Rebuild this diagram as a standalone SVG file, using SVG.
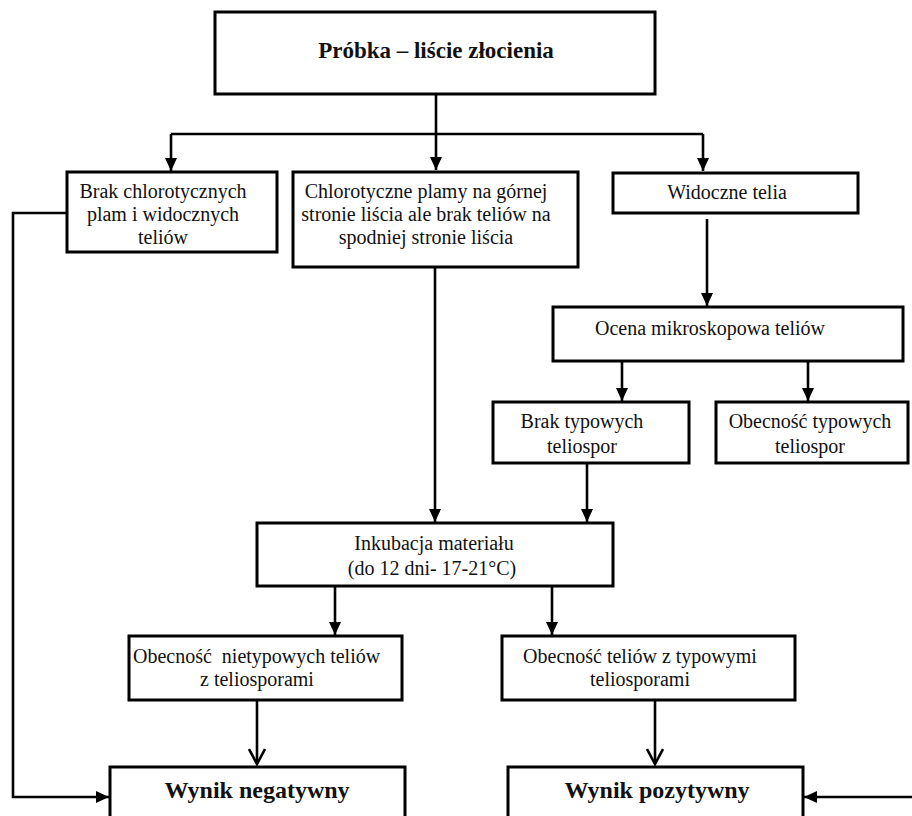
<svg xmlns="http://www.w3.org/2000/svg" width="912" height="816" viewBox="0 0 912 816">
<defs>
<style>
.box{fill:#fff;stroke:#000;stroke-width:3}
.t{font-family:'Liberation Serif','DejaVu Serif',serif;font-size:20px;fill:#111;text-anchor:middle}
.b{font-family:'Liberation Serif','DejaVu Serif',serif;font-weight:bold;fill:#111;text-anchor:middle}
.st{text-anchor:start}
.ln{fill:none;stroke:#000;stroke-width:2.6}
</style>
<marker id="fa" markerUnits="userSpaceOnUse" markerWidth="14" markerHeight="14" refX="13" refY="7" orient="auto" viewBox="0 0 14 14">
<path d="M0,1 L13,7 L0,13 Z" fill="#000"/>
</marker>
<marker id="oa" markerUnits="userSpaceOnUse" markerWidth="18" markerHeight="18" refX="16" refY="9" orient="auto" viewBox="0 0 18 18">
<path d="M1,1 L16,9 L1,17" fill="none" stroke="#000" stroke-width="2.6"/>
</marker>
</defs>
<rect width="912" height="816" fill="#fff"/>

<g id="connectors">
<path class="ln" d="M436,94 V170" marker-end="url(#fa)"/>
<path class="ln" d="M171,134 H703"/>
<path class="ln" d="M171,134 V171" marker-end="url(#fa)"/>
<path class="ln" d="M703,134 V171" marker-end="url(#fa)"/>
<path class="ln" d="M707,219 V306" marker-end="url(#fa)"/>
<path class="ln" d="M622,361 V401" marker-end="url(#fa)"/>
<path class="ln" d="M808,361 V401" marker-end="url(#fa)"/>
<path class="ln" d="M435,267 V522" marker-end="url(#fa)"/>
<path class="ln" d="M587,463 V522" marker-end="url(#fa)"/>
<path class="ln" d="M335,586 V635" marker-end="url(#fa)"/>
<path class="ln" d="M552,586 V635" marker-end="url(#fa)"/>
<path class="ln" d="M257,700 V764" marker-end="url(#oa)"/>
<path class="ln" d="M655,700 V764" marker-end="url(#oa)"/>
<path class="ln" d="M67,213 H13 V797 H109" marker-end="url(#fa)"/>
<path class="ln" d="M912,797 H804" marker-end="url(#fa)"/>
</g>

<g id="n_probka">
<rect class="box" x="215" y="12" width="440" height="82"/>
<text class="b" x="436" y="58" font-size="23">Próbka – liście złocienia</text>
</g>

<g id="n_brak_chl">
<rect class="box" x="67" y="172" width="210" height="80"/>
<text class="t" x="163" y="198">Brak chlorotycznych</text>
<text class="t" x="163" y="221">plam i widocznych</text>
<text class="t" x="163" y="244">teliów</text>
</g>

<g id="n_chlorotyczne">
<rect class="box" x="293" y="172" width="285" height="95"/>
<text class="t" x="426" y="198">Chlorotyczne plamy na górnej</text>
<text class="t" x="426" y="221">stronie liścia ale brak teliów na</text>
<text class="t" x="426" y="244">spodniej stronie liścia</text>
</g>

<g id="n_widoczne">
<rect class="box" x="613" y="173" width="245" height="40"/>
<text class="t" x="727" y="199">Widoczne telia</text>
</g>

<g id="n_ocena">
<rect class="box" x="553" y="307" width="350" height="54"/>
<text class="t" x="710" y="335">Ocena mikroskopowa teliów</text>
</g>

<g id="n_brak_typ">
<rect class="box" x="493" y="402" width="196" height="61"/>
<text class="t" x="582" y="428">Brak typowych</text>
<text class="t" x="582" y="453">teliospor</text>
</g>

<g id="n_obecnosc_typ">
<rect class="box" x="716" y="402" width="192" height="61"/>
<text class="t" x="810" y="428">Obecność typowych</text>
<text class="t" x="810" y="453">teliospor</text>
</g>

<g id="n_inkubacja">
<rect class="box" x="257" y="523" width="356" height="63"/>
<text class="t" x="434" y="550">Inkubacja materiału</text>
<text class="t" x="432" y="575">(do 12 dni- 17-21°C)</text>
</g>

<g id="n_nietypowe">
<rect class="box" x="129" y="636" width="273" height="64"/>
<text class="t st" x="133" y="663" xml:space="preserve">Obecność  nietypowych teliów</text>
<text class="t" x="257" y="686">z teliosporami</text>
</g>

<g id="n_typowe">
<rect class="box" x="502" y="636" width="293" height="64"/>
<text class="t" x="640" y="663">Obecność teliów z typowymi</text>
<text class="t" x="640" y="686">teliosporami</text>
</g>

<g id="n_negatywny">
<rect class="box" x="110" y="767" width="295" height="70"/>
<text class="b" x="257" y="798" font-size="24">Wynik negatywny</text>
</g>

<g id="n_pozytywny">
<rect class="box" x="508" y="767" width="295" height="70"/>
<text class="b" x="657" y="798" font-size="24">Wynik pozytywny</text>
</g>
</svg>
